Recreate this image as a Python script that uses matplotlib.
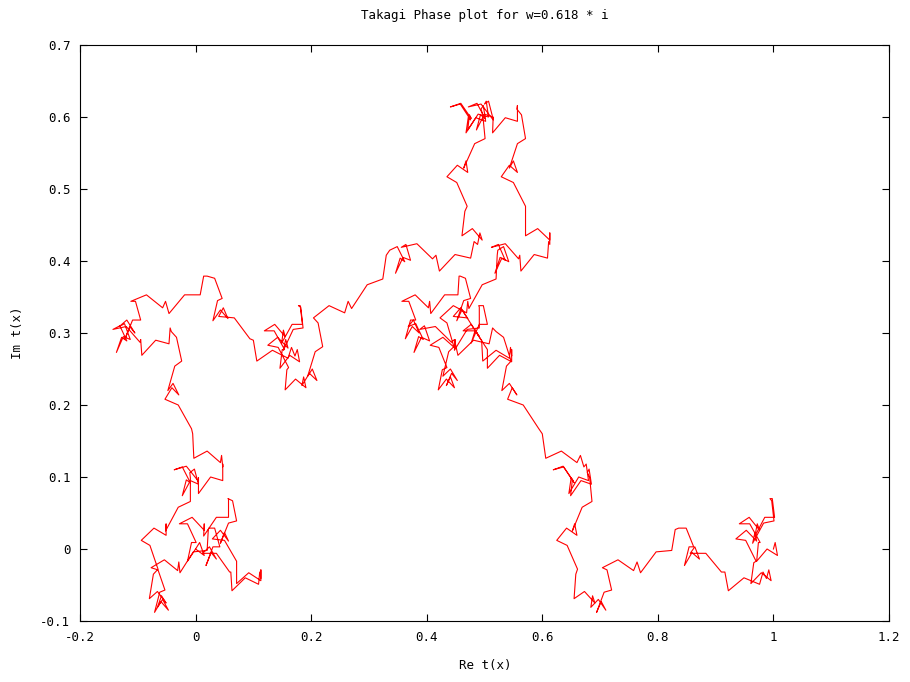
import matplotlib
matplotlib.use("Agg")
import matplotlib.pyplot as plt

# phase curve t(x) for x in [0, 1/2]; one row pair per stretch between
# successive 1/32 steps of x
re_t = [
    0.000, 0.007, 0.015, 0.000, -0.014, -0.007, 0.001, -0.014, -0.028, -0.006, 0.015, 0.015, 0.014, 0.036, 0.057, 0.057,
    0.056, 0.064, 0.071, 0.057, 0.043, 0.050, 0.057, 0.043, 0.029, 0.050, 0.071, 0.071, 0.071, 0.092, 0.113, 0.113,
    0.113, 0.111, 0.109, 0.086, 0.063, 0.061, 0.059, 0.036, 0.012, 0.024, 0.036, 0.027, 0.018, 0.030, 0.042, 0.033,
    0.023, 0.022, 0.020, -0.004, -0.027, -0.029, -0.031, -0.054, -0.077, -0.065, -0.053, -0.062, -0.071, -0.060, -0.047, -0.057,
    -0.066, -0.059, -0.051, -0.066, -0.080, -0.073, -0.065, -0.079, -0.094, -0.072, -0.051, -0.051, -0.052, -0.030, -0.009, -0.009,
    -0.010, -0.002, 0.005, -0.009, -0.023, -0.016, -0.009, -0.023, -0.037, -0.016, 0.005, 0.005, 0.005, 0.026, 0.047, 0.047,
    0.047, 0.045, 0.043, 0.020, -0.003, -0.005, -0.007, -0.030, -0.053, -0.041, -0.029, -0.039, -0.048, -0.036, -0.024, -0.033,
    -0.042, -0.044, -0.046, -0.069, -0.093, -0.095, -0.096, -0.120, -0.143, -0.131, -0.119, -0.128, -0.137, -0.125, -0.113, -0.123,
    -0.132, -0.119, -0.105, -0.114, -0.122, -0.109, -0.095, -0.104, -0.112, -0.085, -0.057, -0.052, -0.046, -0.019, 0.008, 0.014,
    0.020, 0.033, 0.046, 0.038, 0.030, 0.043, 0.056, 0.048, 0.040, 0.067, 0.094, 0.100, 0.106, 0.133, 0.160, 0.166,
    0.172, 0.176, 0.180, 0.163, 0.146, 0.150, 0.154, 0.136, 0.119, 0.137, 0.155, 0.152, 0.149, 0.167, 0.185, 0.181,
    0.178, 0.182, 0.186, 0.169, 0.152, 0.156, 0.160, 0.142, 0.125, 0.143, 0.161, 0.158, 0.155, 0.173, 0.191, 0.187,
    0.184, 0.197, 0.210, 0.202, 0.194, 0.207, 0.220, 0.212, 0.204, 0.231, 0.258, 0.264, 0.270, 0.297, 0.324, 0.330,
    0.336, 0.349, 0.362, 0.354, 0.346, 0.359, 0.372, 0.364, 0.356, 0.383, 0.410, 0.416, 0.422, 0.449, 0.476, 0.482,
    0.488, 0.492, 0.496, 0.479, 0.461, 0.466, 0.470, 0.452, 0.435, 0.453, 0.471, 0.468, 0.464, 0.483, 0.501, 0.497,
    0.494, 0.498, 0.502, 0.485, 0.468, 0.472, 0.476, 0.458, 0.441, 0.459, 0.477, 0.474, 0.471, 0.489, 0.507, 0.503,
    0.500, 0.507, 0.514, 0.500, 0.486, 0.493, 0.501, 0.487, 0.472, 0.494, 0.515, 0.515, 0.514, 0.536, 0.557, 0.557,
    0.556, 0.564, 0.571, 0.557, 0.543, 0.550, 0.557, 0.543, 0.529, 0.550, 0.571, 0.571, 0.571, 0.592, 0.613, 0.613,
    0.613, 0.611, 0.609, 0.586, 0.563, 0.561, 0.559, 0.536, 0.512, 0.524, 0.536, 0.527, 0.518, 0.530, 0.542, 0.533,
    0.523, 0.522, 0.520, 0.496, 0.473, 0.471, 0.469, 0.446, 0.423, 0.435, 0.447, 0.438, 0.428, 0.441, 0.453, 0.443,
    0.434, 0.441, 0.448, 0.434, 0.420, 0.427, 0.435, 0.421, 0.406, 0.428, 0.449, 0.449, 0.448, 0.470, 0.491, 0.491,
    0.490, 0.498, 0.505, 0.491, 0.477, 0.484, 0.491, 0.477, 0.463, 0.484, 0.505, 0.505, 0.505, 0.526, 0.547, 0.547,
    0.547, 0.545, 0.543, 0.520, 0.497, 0.495, 0.493, 0.470, 0.446, 0.459, 0.471, 0.461, 0.452, 0.464, 0.476, 0.467,
    0.458, 0.456, 0.454, 0.431, 0.407, 0.405, 0.403, 0.380, 0.357, 0.369, 0.381, 0.372, 0.363, 0.375, 0.387, 0.377,
    0.368, 0.381, 0.394, 0.386, 0.378, 0.391, 0.405, 0.396, 0.388, 0.415, 0.443, 0.448, 0.454, 0.481, 0.508, 0.514,
    0.520, 0.533, 0.546, 0.538, 0.530, 0.543, 0.556, 0.548, 0.540, 0.567, 0.594, 0.600, 0.606, 0.633, 0.660, 0.666,
    0.672, 0.676, 0.680, 0.663, 0.646, 0.650, 0.654, 0.636, 0.619, 0.637, 0.655, 0.652, 0.649, 0.667, 0.685, 0.681,
    0.678, 0.682, 0.686, 0.669, 0.652, 0.656, 0.660, 0.642, 0.625, 0.643, 0.661, 0.658, 0.655, 0.673, 0.691, 0.687,
    0.684, 0.697, 0.710, 0.702, 0.694, 0.707, 0.720, 0.712, 0.704, 0.731, 0.758, 0.764, 0.770, 0.797, 0.824, 0.830,
    0.836, 0.849, 0.862, 0.854, 0.846, 0.859, 0.872, 0.864, 0.856, 0.883, 0.910, 0.916, 0.922, 0.949, 0.976, 0.982,
    0.988, 0.992, 0.996, 0.979, 0.961, 0.966, 0.970, 0.952, 0.935, 0.953, 0.971, 0.968, 0.964, 0.983, 1.001, 0.997,
    0.994, 0.998, 1.002, 0.985, 0.968, 0.972, 0.976, 0.958, 0.941, 0.959, 0.977, 0.974, 0.971, 0.989, 1.007, 1.003,
    1.000,
]
im_t = [
    0.000, 0.009, -0.009, 0.000, -0.017, 0.009, 0.009, 0.035, 0.035, 0.044, 0.026, 0.035, 0.018, 0.044, 0.044, 0.070,
    0.070, 0.067, 0.039, 0.036, 0.008, 0.023, 0.011, 0.026, 0.014, 0.012, -0.017, -0.019, -0.048, -0.033, -0.044, -0.029,
    -0.041, -0.032, -0.049, -0.040, -0.058, -0.032, -0.032, -0.006, -0.006, 0.003, -0.014, -0.005, -0.023, 0.003, 0.003, 0.029,
    0.029, 0.027, -0.002, -0.004, -0.033, -0.018, -0.030, -0.015, -0.026, -0.029, -0.057, -0.060, -0.088, -0.073, -0.085, -0.070,
    -0.081, -0.065, -0.075, -0.059, -0.069, -0.035, -0.028, 0.005, 0.012, 0.029, 0.019, 0.035, 0.025, 0.058, 0.066, 0.099,
    0.106, 0.111, 0.090, 0.095, 0.074, 0.096, 0.092, 0.114, 0.110, 0.115, 0.094, 0.099, 0.077, 0.100, 0.095, 0.118,
    0.114, 0.130, 0.120, 0.136, 0.126, 0.160, 0.167, 0.200, 0.208, 0.224, 0.214, 0.230, 0.220, 0.254, 0.261, 0.294,
    0.302, 0.307, 0.285, 0.290, 0.269, 0.291, 0.287, 0.309, 0.305, 0.310, 0.289, 0.294, 0.273, 0.295, 0.291, 0.313,
    0.309, 0.318, 0.300, 0.309, 0.292, 0.318, 0.318, 0.344, 0.344, 0.353, 0.335, 0.344, 0.327, 0.353, 0.353, 0.379,
    0.379, 0.376, 0.348, 0.345, 0.317, 0.332, 0.320, 0.335, 0.323, 0.321, 0.292, 0.290, 0.261, 0.276, 0.265, 0.280,
    0.268, 0.277, 0.260, 0.269, 0.251, 0.277, 0.277, 0.303, 0.303, 0.312, 0.295, 0.304, 0.286, 0.312, 0.312, 0.338,
    0.338, 0.336, 0.307, 0.305, 0.276, 0.291, 0.279, 0.294, 0.283, 0.280, 0.252, 0.249, 0.221, 0.236, 0.224, 0.239,
    0.227, 0.244, 0.234, 0.250, 0.240, 0.274, 0.281, 0.314, 0.321, 0.338, 0.328, 0.344, 0.334, 0.367, 0.375, 0.408,
    0.415, 0.420, 0.399, 0.404, 0.383, 0.405, 0.401, 0.423, 0.419, 0.424, 0.403, 0.408, 0.386, 0.409, 0.404, 0.427,
    0.423, 0.439, 0.429, 0.445, 0.435, 0.469, 0.476, 0.509, 0.517, 0.533, 0.523, 0.539, 0.529, 0.563, 0.570, 0.603,
    0.611, 0.616, 0.594, 0.599, 0.578, 0.600, 0.596, 0.618, 0.614, 0.619, 0.598, 0.603, 0.582, 0.604, 0.600, 0.622,
    0.618, 0.622, 0.600, 0.604, 0.582, 0.603, 0.598, 0.619, 0.614, 0.618, 0.596, 0.600, 0.578, 0.599, 0.594, 0.616,
    0.611, 0.603, 0.570, 0.563, 0.529, 0.539, 0.523, 0.533, 0.517, 0.509, 0.476, 0.469, 0.435, 0.445, 0.429, 0.439,
    0.423, 0.427, 0.404, 0.409, 0.386, 0.408, 0.403, 0.424, 0.419, 0.423, 0.401, 0.405, 0.383, 0.404, 0.399, 0.420,
    0.415, 0.408, 0.375, 0.367, 0.334, 0.344, 0.328, 0.338, 0.321, 0.314, 0.281, 0.274, 0.240, 0.250, 0.234, 0.244,
    0.227, 0.239, 0.224, 0.236, 0.221, 0.249, 0.252, 0.280, 0.283, 0.294, 0.279, 0.291, 0.276, 0.305, 0.307, 0.336,
    0.338, 0.338, 0.312, 0.312, 0.286, 0.304, 0.295, 0.312, 0.303, 0.303, 0.277, 0.277, 0.251, 0.269, 0.260, 0.277,
    0.268, 0.280, 0.265, 0.276, 0.261, 0.290, 0.292, 0.321, 0.323, 0.335, 0.320, 0.332, 0.317, 0.345, 0.348, 0.376,
    0.379, 0.379, 0.353, 0.353, 0.327, 0.344, 0.335, 0.353, 0.344, 0.344, 0.318, 0.318, 0.292, 0.309, 0.300, 0.318,
    0.309, 0.313, 0.291, 0.295, 0.273, 0.294, 0.289, 0.310, 0.305, 0.309, 0.287, 0.291, 0.269, 0.290, 0.285, 0.307,
    0.302, 0.294, 0.261, 0.254, 0.220, 0.230, 0.214, 0.224, 0.208, 0.200, 0.167, 0.160, 0.126, 0.136, 0.120, 0.130,
    0.114, 0.118, 0.095, 0.100, 0.077, 0.099, 0.094, 0.115, 0.110, 0.114, 0.092, 0.096, 0.074, 0.095, 0.090, 0.111,
    0.106, 0.099, 0.066, 0.058, 0.025, 0.035, 0.019, 0.029, 0.012, 0.005, -0.028, -0.035, -0.069, -0.059, -0.075, -0.065,
    -0.081, -0.070, -0.085, -0.073, -0.088, -0.060, -0.057, -0.029, -0.026, -0.015, -0.030, -0.018, -0.033, -0.004, -0.002, 0.027,
    0.029, 0.029, 0.003, 0.003, -0.023, -0.005, -0.014, 0.003, -0.006, -0.006, -0.032, -0.032, -0.058, -0.040, -0.049, -0.032,
    -0.041, -0.029, -0.044, -0.033, -0.048, -0.019, -0.017, 0.012, 0.014, 0.026, 0.011, 0.023, 0.008, 0.036, 0.039, 0.067,
    0.070, 0.070, 0.044, 0.044, 0.018, 0.035, 0.026, 0.044, 0.035, 0.035, 0.009, 0.009, -0.017, 0.000, -0.009, 0.009,
    0.000,
]

x_ticks = [-0.2, 0, 0.2, 0.4, 0.6, 0.8, 1, 1.2]
x_labels = ["-0.2", "0", "0.2", "0.4", "0.6", "0.8", "1", "1.2"]
y_ticks = [-0.1, 0, 0.1, 0.2, 0.3, 0.4, 0.5, 0.6, 0.7]
y_labels = ["-0.1", "0", "0.1", "0.2", "0.3", "0.4", "0.5", "0.6", "0.7"]

plt.rcParams["font.family"] = ["DejaVu Sans Mono"]
plt.rcParams["font.size"] = 9

fig = plt.figure(figsize=(9.1, 6.82), dpi=100)
ax = fig.add_axes([80 / 910, 61 / 682, 809 / 910, 576 / 682])

ax.plot(re_t, im_t, color="#ff0000", lw=0.8, solid_joinstyle="round")

ax.set_xlim(-0.2, 1.2)
ax.set_ylim(-0.1, 0.7)
ax.set_xticks(x_ticks)
ax.set_xticklabels(x_labels)
ax.set_yticks(y_ticks)
ax.set_yticklabels(y_labels)
ax.tick_params(direction="in", length=5, width=0.8, top=True, right=True,
               pad=7, colors="black")
for sp in ax.spines.values():
    sp.set_linewidth(0.8)

fig.text(485 / 910, 1 - 15 / 682, "Takagi Phase plot for w=0.618 * i",
         ha="center", va="center", fontsize=9)
fig.text(485 / 910, 1 - 665 / 682, "Re t(x)", ha="center", va="center", fontsize=9)
fig.text(18 / 910, 1 - 333 / 682, "Im t(x)", ha="center", va="center",
         rotation=90, fontsize=9)

fig.savefig("out.png", dpi=100)
